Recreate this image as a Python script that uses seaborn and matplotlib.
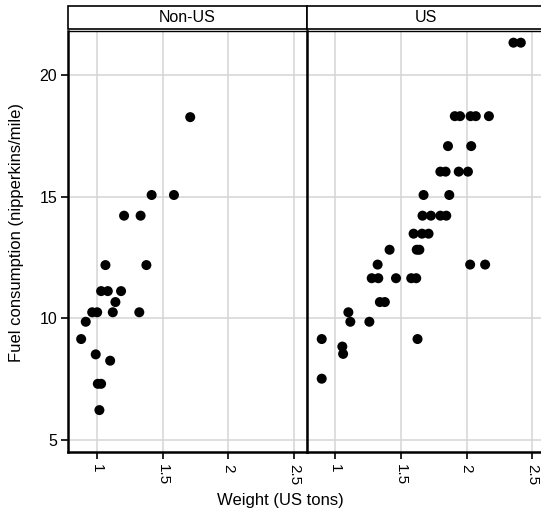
import numpy as np
import pandas as pd
import matplotlib
matplotlib.use("Agg")
import matplotlib.pyplot as plt
import seaborn as sns
from matplotlib.patches import Rectangle

# weight (US tons) and fuel consumption
nonus_weight = [1.709, 1.415, 1.585, 1.205, 1.331, 1.063, 1.375, 1.030, 1.081, 1.182, 1.139,
                0.962, 1.000, 1.119, 1.321, 0.913, 0.878, 0.989, 1.099, 1.005, 1.030, 1.017]
nonus_fuel = [18.27, 15.07, 15.07, 14.22, 14.22, 12.19, 12.19, 11.12, 11.12, 11.12, 10.67,
              10.25, 10.25, 10.25, 10.25, 9.86, 9.15, 8.52, 8.26, 7.31, 7.31, 6.23]

us_weight = [2.357, 2.413,
             1.91, 1.95, 2.03, 2.07, 2.17,
             1.858, 2.035,
             1.80, 1.84, 1.94, 2.01,
             1.672, 1.868,
             1.664, 1.728, 1.80, 1.845,
             1.596, 1.660, 1.710,
             1.413, 1.62, 1.64,
             1.322, 2.027, 2.141,
             1.277, 1.327, 1.462, 1.578, 1.616,
             1.339, 1.377,
             1.099,
             1.114, 1.259,
             0.896, 1.626,
             1.053, 1.059, 0.896]
us_fuel = [21.33, 21.33,
           18.31, 18.31, 18.31, 18.31, 18.31,
           17.08, 17.08,
           16.03, 16.03, 16.03, 16.03,
           15.07, 15.07,
           14.22, 14.22, 14.22, 14.22,
           13.48, 13.48, 13.48,
           12.82, 12.82, 12.82,
           12.21, 12.21, 12.21,
           11.65, 11.65, 11.65, 11.65, 11.65,
           10.67, 10.67,
           10.25,
           9.86, 9.86,
           9.15, 9.15,
           8.84, 8.54, 7.52]

panels = ["Non-US", "US"]
x_ticks = [1, 1.5, 2, 2.5]
y_ticks = [5, 10, 15, 20]

df = pd.DataFrame({
    "weight": nonus_weight + us_weight,
    "fuel": nonus_fuel + us_fuel,
    "origin": ["Non-US"] * len(nonus_weight) + ["US"] * len(us_weight),
})

sns.set_style("white")
plt.rcParams["font.family"] = ["Liberation Sans", "DejaVu Sans"]
plt.rcParams["text.color"] = "black"
plt.rcParams["axes.labelcolor"] = "black"
plt.rcParams["xtick.color"] = "black"
plt.rcParams["ytick.color"] = "black"

g = sns.relplot(data=df, x="weight", y="fuel", col="origin", col_order=panels,
                kind="scatter", color="black", s=52, edgecolor="none",
                height=4, aspect=0.6)
fig = g.figure
fig.set_size_inches(5.41, 5.14)
fig.set_dpi(100)

W, H = 541, 514
left, pw = 68.3, 238.2
bottom, top = 451.7, 31
for i, ax in enumerate(g.axes.flat):
    x0 = left + i * pw
    ax.set_position([x0 / W, 1 - bottom / H, pw / W, (bottom - top) / H])
    ax.set_xlim(0.78, 2.595)
    ax.set_ylim(4.52, 21.81)
    ax.set_xticks(x_ticks)
    ax.set_xticklabels([f"{t:g}" for t in x_ticks], rotation=270, fontsize=11)
    ax.set_yticks(y_ticks)
    ax.grid(True, color="#d4d4d4", linewidth=1.1)
    ax.set_axisbelow(True)
    for s in ax.spines.values():
        s.set_visible(True)
        s.set_color("black")
        s.set_linewidth(1.0)
    ax.spines["left"].set_linewidth(1.8)
    ax.spines["bottom"].set_linewidth(1.8)
    ax.tick_params(axis="x", direction="out", length=5, width=1.2, colors="black",
                   bottom=True, pad=4)
    ax.set_title("")
    ax.set_xlabel("")
    ax.set_ylabel("")
    # strip header
    ax.add_patch(Rectangle((0, 1.005), 1, 22.5 / (bottom - top), transform=ax.transAxes,
                           facecolor="white", edgecolor="black", linewidth=1.2,
                           clip_on=False))
    ax.text(0.5, 1.005 + 11.5 / (bottom - top), panels[i], transform=ax.transAxes,
            ha="center", va="center", fontsize=11.5, color="black")
    if i == 0:
        ax.set_yticklabels([str(t) for t in y_ticks], fontsize=11.5)
        ax.tick_params(axis="y", direction="out", length=5, width=1.2, colors="black",
                       left=True, pad=3)
    else:
        ax.tick_params(axis="y", left=False, labelleft=False)

fig.text(280 / W, 1 - 500 / H, "Weight (US tons)", ha="center", va="center",
         fontsize=12, color="black")
fig.text(17 / W, 1 - 233 / H, "Fuel consumption (nipperkins/mile)", ha="center",
         va="center", rotation=90, fontsize=12, color="black")

fig.savefig("out.png", dpi=100)
